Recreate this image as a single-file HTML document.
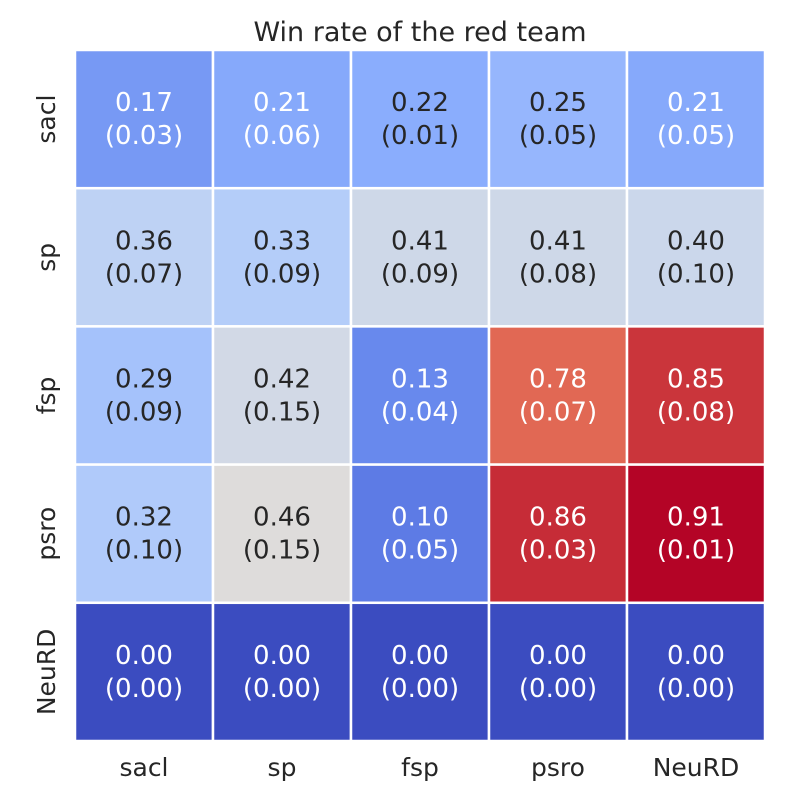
<!DOCTYPE html>
<html><head><meta charset="utf-8"><style>
html,body{margin:0;padding:0;background:#fff;}
svg text{font-family:"DejaVu Sans","Liberation Sans",sans-serif;}
</style></head><body>
<svg id="chart" width="800" height="800" xmlns="http://www.w3.org/2000/svg">
<text x="420" y="41" text-anchor="middle" font-size="27" fill="#262626">Win rate of the red team</text>
</svg>
<script>
const rowLabels = ["sacl","sp","fsp","psro","NeuRD"];
const colLabels = ["sacl","sp","fsp","psro","NeuRD"];
const means = [
 [0.17,0.21,0.22,0.25,0.21],
 [0.36,0.33,0.41,0.41,0.40],
 [0.29,0.42,0.13,0.78,0.85],
 [0.32,0.46,0.10,0.86,0.91],
 [0.00,0.00,0.00,0.00,0.00]
];
const stds = [
 [0.03,0.06,0.01,0.05,0.05],
 [0.07,0.09,0.09,0.08,0.10],
 [0.09,0.15,0.04,0.07,0.08],
 [0.10,0.15,0.05,0.03,0.01],
 [0.00,0.00,0.00,0.00,0.00]
];
const cmap=[[59,76,192],[98,130,234],[141,176,254],[184,208,249],[221,221,221],[245,196,173],[244,154,123],[222,96,77],[180,4,38]];
function color(t){t=Math.max(0,Math.min(1,t));const p=t*8,i=Math.min(7,Math.floor(p)),f=p-i;
 return cmap[i].map((c,k)=>c+(cmap[i+1][k]-c)*f);}
function lum(c){const l=c.map(v=>{v/=255;return v<=0.03928?v/12.92:Math.pow((v+0.055)/1.055,2.4);});return 0.2126*l[0]+0.7152*l[1]+0.0722*l[2];}
const svg=document.getElementById('chart');const NS="http://www.w3.org/2000/svg";
const x0=75,y0=50,W=690,H=691,cw=W/5,ch=H/5;
let vmin=Infinity,vmax=-Infinity;means.flat().forEach(v=>{vmin=Math.min(vmin,v);vmax=Math.max(vmax,v);});
function xs(j){return x0+j*cw;} function ys(i){return y0+i*ch;}
means.forEach((row,i)=>row.forEach((v,j)=>{
 const c=color((v-vmin)/(vmax-vmin));
 const r=document.createElementNS(NS,'rect');
 r.setAttribute('x',xs(j));r.setAttribute('y',ys(i));r.setAttribute('width',cw);r.setAttribute('height',ch);
 r.setAttribute('fill',`rgb(${c.map(Math.round).join(',')})`);r.setAttribute('stroke','#fff');r.setAttribute('stroke-width','2.5');
 
 
 svg.appendChild(r);
 const tc=(lum(c)<0.408 && !(v>0.215&&v<0.235))?'#ffffff':'#262626';
 [[v.toFixed(2),-8],['('+stds[i][j].toFixed(2)+')',25]].forEach(([s,dy])=>{
  const t=document.createElementNS(NS,'text');
  t.setAttribute('x',xs(j)+cw/2);t.setAttribute('y',ys(i)+ch/2+dy);t.setAttribute('text-anchor','middle');
  t.setAttribute('font-size','26');t.setAttribute('fill',tc);t.textContent=s;
  
  
  svg.appendChild(t);
 });
}));
colLabels.forEach((l,j)=>{const t=document.createElementNS(NS,'text');
 t.setAttribute('x',xs(j)+cw/2);t.setAttribute('y',776);t.setAttribute('text-anchor','middle');t.setAttribute('font-size','25');t.setAttribute('fill','#262626');t.textContent=l;
 
 
 svg.appendChild(t);});
rowLabels.forEach((l,i)=>{const t=document.createElementNS(NS,'text');
 const cx=55,cy=ys(i)+ch/2;
 t.setAttribute('x',cx);t.setAttribute('y',cy);t.setAttribute('text-anchor','middle');t.setAttribute('font-size','25');t.setAttribute('fill','#262626');
 t.setAttribute('transform',`rotate(-90 ${cx} ${cy})`);t.textContent=l;
 
 
 svg.appendChild(t);});
</script>
</body></html>
